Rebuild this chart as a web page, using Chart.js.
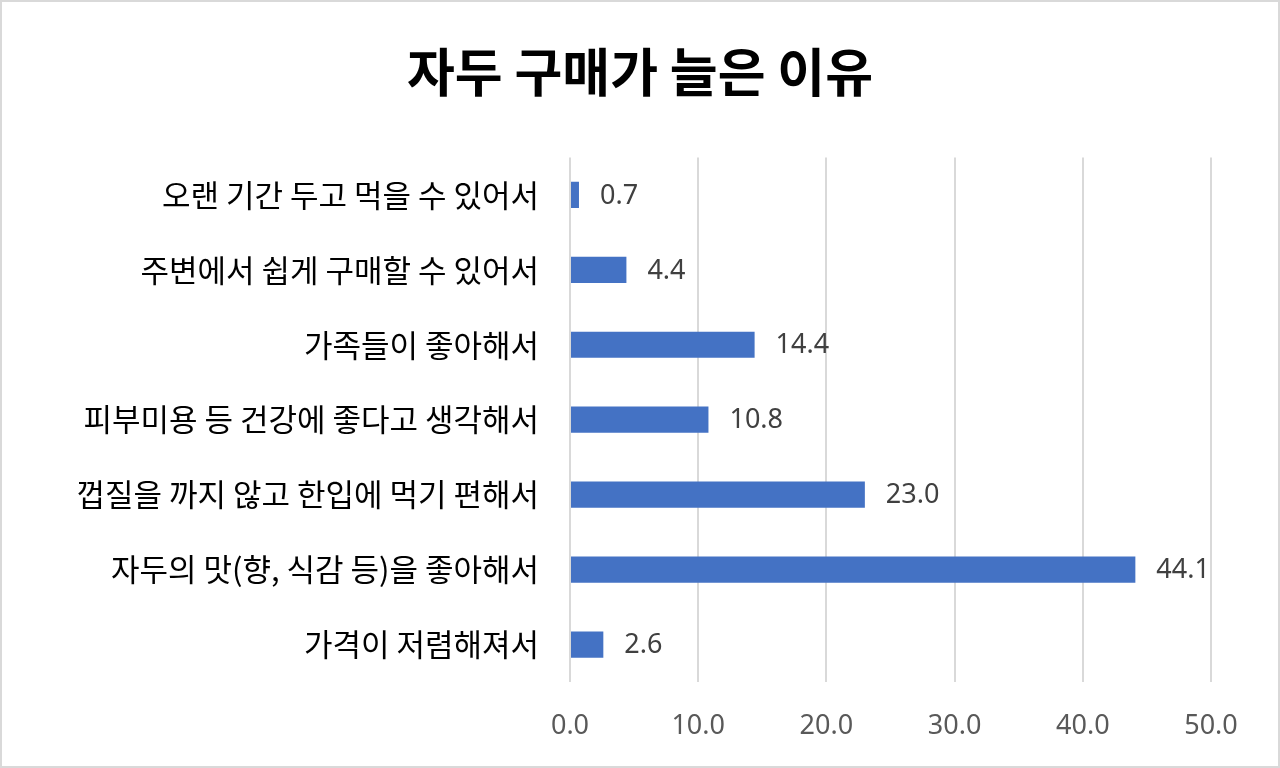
<!DOCTYPE html>
<html>
<head>
<meta charset="utf-8">
<script src="https://cdn.jsdelivr.net/npm/chart.js@4.4.1/dist/chart.umd.min.js"></script>
<style>
  html, body { margin: 0; padding: 0; background: #fff; }
  #wrap { width: 1276px; height: 764px; border: 2px solid #d9d9d9; position: relative; }
</style>
</head>
<body>
<div id="wrap"><canvas id="barChart"></canvas></div>
<script>
// 자두 구매가 늘은 이유 (%)
const reasons = [
    '오랜 기간 두고 먹을 수 있어서',
    '주변에서 쉽게 구매할 수 있어서',
    '가족들이 좋아해서',
    '피부미용 등 건강에 좋다고 생각해서',
    '껍질을 까지 않고 한입에 먹기 편해서',
    '자두의 맛(향, 식감 등)을 좋아해서',
    '가격이 저렴해져서'
];
const shares = [0.7, 4.4, 14.4, 10.8, 23.0, 44.1, 2.6];
const tickValues = [0, 10, 20, 30, 40, 50];

const korFont = '"Noto Sans CJK KR", "Noto Sans", sans-serif';

// value labels at the end of each bar
const valueLabels = {
    id: 'valueLabels',
    afterDatasetsDraw(chart) {
        const ctx = chart.ctx;
        const meta = chart.getDatasetMeta(0);
        ctx.save();
        ctx.font = '27px "Noto Sans", sans-serif';
        ctx.fillStyle = '#404040';
        ctx.textAlign = 'left';
        ctx.textBaseline = 'middle';
        meta.data.forEach(function (bar, i) {
            ctx.fillText(shares[i].toFixed(1), bar.x + 21, bar.y + 1);
        });
        ctx.restore();
    }
};

var bar = document.getElementById('barChart').getContext('2d');
var myChart = new Chart(bar, {
    type: 'bar',
    data: {
        labels: reasons,
        datasets: [{
            data: shares,
            backgroundColor: '#4472c4',
            borderWidth: 0,
            barPercentage: 0.7,
            categoryPercentage: 0.5
        }]
    },
    options: {
        indexAxis: 'y',
        responsive: true,
        maintainAspectRatio: false,
        animation: false,
        layout: { padding: { left: 0, right: 0, top: 0, bottom: 18 } },
        plugins: {
            legend: { display: false },
            tooltip: { enabled: false },
            title: {
                display: true,
                text: '자두 구매가 늘은 이유',
                color: '#000',
                font: { family: korFont, size: 52, weight: 'bold', lineHeight: 1.2 },
                padding: { top: 39, bottom: 54 }
            }
        },
        scales: {
            x: {
                min: 0,
                max: 50,
                afterBuildTicks(scale) {
                    scale.ticks = tickValues.map(v => ({ value: v }));
                },
                afterFit(scale) { scale.height = 66; },
                grid: { color: '#d9d9d9', lineWidth: 2, drawTicks: false },
                border: { display: false },
                ticks: {
                    padding: 28,
                    color: '#595959',
                    font: { family: '"Noto Sans", sans-serif', size: 27 },
                    callback: v => Number(v).toFixed(1)
                }
            },
            y: {
                afterFit(scale) { scale.width = 568; },
                grid: { display: false },
                border: { display: false },
                ticks: {
                    padding: 23,
                    color: '#000',
                    font: { family: korFont, size: 31 }
                }
            },
            // empty right-hand margin so the title centres on the whole page
            yRight: {
                type: 'category',
                position: 'right',
                afterFit(scale) { scale.width = 67; },
                grid: { display: false },
                border: { display: false },
                ticks: { display: false }
            }
        }
    },
    plugins: [valueLabels]
});
</script>
</body>
</html>
